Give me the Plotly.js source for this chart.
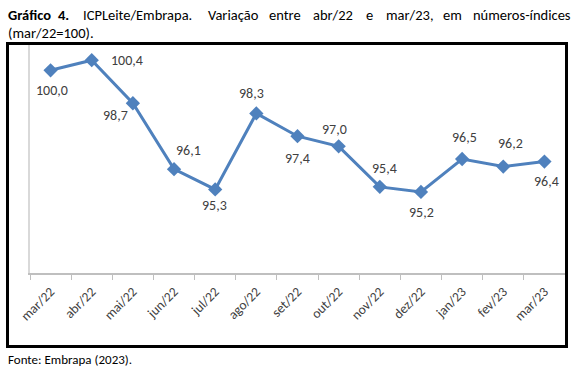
<!DOCTYPE html>
<html>
<head>
<meta charset="utf-8">
<script src="https://cdn.plot.ly/plotly-3.0.1.min.js"></script>
<style>
html,body{margin:0;padding:0;background:#fff;}
#chart{width:579px;height:375px;}
</style>
</head>
<body>
<div id="chart"></div>
<script>
// ---- Data ----
const categorias = ['mar/22','abr/22','mai/22','jun/22','jul/22','ago/22','set/22','out/22','nov/22','dez/22','jan/23','fev/23','mar/23'];
const indices = [100.0, 100.4, 98.7, 96.1, 95.3, 98.3, 97.4, 97.0, 95.4, 95.2, 96.5, 96.2, 96.4];
const rotulos = indices.map(v => v.toFixed(1).replace('.', ','));

// label offsets in pixels (style only): [dx, dy] with dy positive = up
const labelShift = [[1,-20],[35,0],[-17,-12],[14,19],[-1,-16],[-5,20],[0,-22],[-4,17],[5,18],[1,-21],[2,22],[7,23],[2,-20]];

// ---- Layout helpers (pixel -> paper) ----
const W = 579, H = 375;
const mL = 30, mR = 14, mT = 45, mB = 102;
const pw = W - mL - mR, ph = H - mT - mB;
const px = x => (x - mL) / pw;
const py = y => (H - mB - y) / ph;

const FONT = 'Carlito, Calibri, Lato, sans-serif';

const titleWords = [
  {t:'<b>Gráfico</b>', x:7, a:'left'},
  {t:'<b>4.</b>', x:63, a:'center'},
  {t:'ICPLeite/Embrapa.', x:137, a:'center'},
  {t:'Variação', x:233, a:'center'},
  {t:'entre', x:284.5, a:'center'},
  {t:'abr/22', x:332.5, a:'center'},
  {t:'e', x:369, a:'center'},
  {t:'mar/23,', x:409.5, a:'center'},
  {t:'em', x:452, a:'center'},
  {t:'números-índices', x:572, a:'right'}
];

const annotations = titleWords.map(w => ({
  text: w.t, xref:'paper', yref:'paper', x: px(w.x), y: py(15),
  xanchor: w.a, yanchor:'middle', showarrow:false, borderpad:0,
  font:{family:FONT, size:14.5, color:'#000'}
}));
annotations.push({
  text:'(mar/22=100).', xref:'paper', yref:'paper', x: px(7), y: py(33),
  xanchor:'left', yanchor:'middle', showarrow:false, borderpad:0,
  font:{family:FONT, size:14.5, color:'#000'}
});
annotations.push({
  text:'Fonte: Embrapa (2023).', xref:'paper', yref:'paper', x: px(7), y: py(359),
  xanchor:'left', yanchor:'middle', showarrow:false, borderpad:0,
  font:{family:FONT, size:13, color:'#000'}
});

// data labels: anchored on each data point through the axes
categorias.forEach((c, i) => {
  annotations.push({
    text: rotulos[i], x: c, y: indices[i], xref:'x', yref:'y',
    xshift: labelShift[i][0], yshift: labelShift[i][1],
    xanchor:'center', yanchor:'middle', showarrow:false, borderpad:0,
    font:{family:FONT, size:14, color:'#404040'}
  });
});

const trace = {
  x: categorias,
  y: indices,
  type: 'scatter',
  mode: 'lines+markers',
  line: {color: '#4F81BD', width: 3},
  marker: {symbol: 'diamond', size: 11, color: '#4F81BD'},
  cliponaxis: false,
  hoverinfo: 'skip'
};

const layout = {
  width: W, height: H,
  margin: {l: mL, r: mR, t: mT, b: mB},
  paper_bgcolor: '#fff', plot_bgcolor: '#fff',
  showlegend: false,
  xaxis: {
    type: 'category',
    range: [-0.5, 12.5],
    showline: true, linecolor: '#BFBFBF', linewidth: 1.5,
    ticks: 'outside', tickson: 'boundaries', ticklen: 5, tickcolor: '#BFBFBF', tickwidth: 1,
    tickangle: -45, ticklabelstandoff: 4,
    tickfont: {family: FONT, size: 13.5, color: '#404040'},
    showgrid: false, zeroline: false, fixedrange: true
  },
  yaxis: {
    range: [92, 101],
    showline: true, linecolor: '#D9D9D9', linewidth: 2,
    showticklabels: false, ticks: '',
    showgrid: false, zeroline: false, fixedrange: true
  },
  shapes: [{
    type: 'rect', xref: 'paper', yref: 'paper',
    x0: px(7.5), x1: px(566.5), y0: py(346.5), y1: py(43.5),
    line: {color: '#000', width: 3}, fillcolor: 'rgba(0,0,0,0)', layer: 'above'
  }],
  annotations: annotations
};

Plotly.newPlot('chart', [trace], layout, {displayModeBar: false, staticPlot: true});
</script>
</body>
</html>
